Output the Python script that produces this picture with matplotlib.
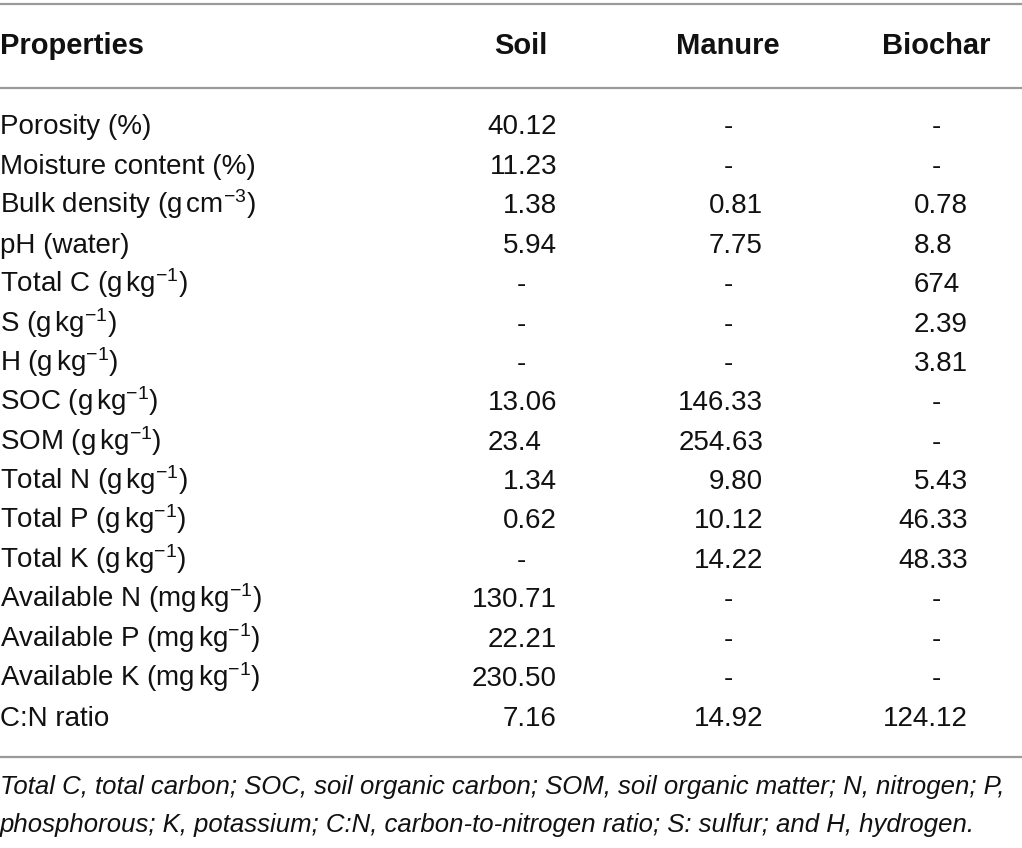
import matplotlib
matplotlib.use("Agg")
import matplotlib.pyplot as plt

plt.rcParams['font.family'] = ['Liberation Sans', 'DejaVu Sans']
plt.rcParams['mathtext.fontset'] = 'custom'
plt.rcParams['mathtext.rm'] = 'Liberation Sans'
plt.rcParams['mathtext.it'] = 'Liberation Sans:italic'
plt.rcParams['mathtext.default'] = 'regular'

headers = ["Properties", "Soil", "Manure", "Biochar"]
properties = [
    "Porosity (%)",
    "Moisture content (%)",
    r"Bulk density (g$\,$cm$^{-3}$)",
    "pH (water)",
    r"Total C (g$\,$kg$^{-1}$)",
    r"S (g$\,$kg$^{-1}$)",
    r"H (g$\,$kg$^{-1}$)",
    r"SOC (g$\,$kg$^{-1}$)",
    r"SOM (g$\,$kg$^{-1}$)",
    r"Total N (g$\,$kg$^{-1}$)",
    r"Total P (g$\,$kg$^{-1}$)",
    r"Total K (g$\,$kg$^{-1}$)",
    r"Available N (mg$\,$kg$^{-1}$)",
    r"Available P (mg$\,$kg$^{-1}$)",
    r"Available K (mg$\,$kg$^{-1}$)",
    "C:N ratio",
]
soil = ["40.12", "11.23", "1.38", "5.94", "-", "-", "-", "13.06", "23.4", "1.34",
        "0.62", "-", "130.71", "22.21", "230.50", "7.16"]
manure = ["-", "-", "0.81", "7.75", "-", "-", "-", "146.33", "254.63", "9.80",
          "10.12", "14.22", "-", "-", "-", "14.92"]
biochar = ["-", "-", "0.78", "8.8", "674", "2.39", "3.81", "-", "-", "5.43",
           "46.33", "48.33", "-", "-", "-", "124.12"]
footnote = ("Total C, total carbon; SOC, soil organic carbon; SOM, soil organic matter; N, nitrogen; P,\n"
            "phosphorous; K, potassium; C:N, carbon-to-nitrogen ratio; S: sulfur; and H, hydrogen.")

W, H = 1022, 848
fig = plt.figure(figsize=(W / 100, H / 100), dpi=100)
ax = fig.add_axes([0, 0, 1, 1])
ax.set_xlim(0, W)
ax.set_ylim(H, 0)
ax.axis('off')

fs = 20
rule_color = "#9a9a9a"
rule_lw = 1.6
text_color = "#111111"

# rules
for yy in (4, 88, 757):
    ax.plot([0, W], [yy, yy], color=rule_color, lw=rule_lw, solid_capstyle='butt')

# header
col_centers = [521, 728, 936]
col_rights = [557, 763, 968]
header_y = 46
ax.text(0, header_y, headers[0], ha='left', va='center', fontsize=21, fontweight='bold', color=text_color)
for c, h in zip(col_centers, headers[1:]):
    ax.text(c, header_y, h, ha='center', va='center', fontsize=21, fontweight='bold', color=text_color)

# body
y0, dy = 127, 39.4
digit_px = 0.556 * fs * 100 / 72
columns = [soil, manure, biochar]
for i, prop in enumerate(properties):
    y = y0 + i * dy
    ax.text(0, y + 7.5, prop, ha='left', va='baseline', fontsize=fs, color=text_color)
    for col, c, r in zip(columns, col_centers, col_rights):
        v = col[i]
        if v == "-":
            ax.text(c, y + 7.5, v, ha='center', va='baseline', fontsize=fs, color=text_color)
        elif "." not in v:
            ax.text(r - 3 * digit_px - 8, y + 7.5, v, ha='left', va='baseline', fontsize=fs, color=text_color)
        else:
            pad = 2 - len(v.split(".")[1])
            ax.text(r - pad * digit_px, y + 7.5, v, ha='right', va='baseline', fontsize=fs, color=text_color)

ax.text(0, 806, footnote, ha='left', va='center', fontsize=18.5, style='italic',
        color=text_color, linespacing=1.78)

fig.savefig("out.png", dpi=100, facecolor="white")
